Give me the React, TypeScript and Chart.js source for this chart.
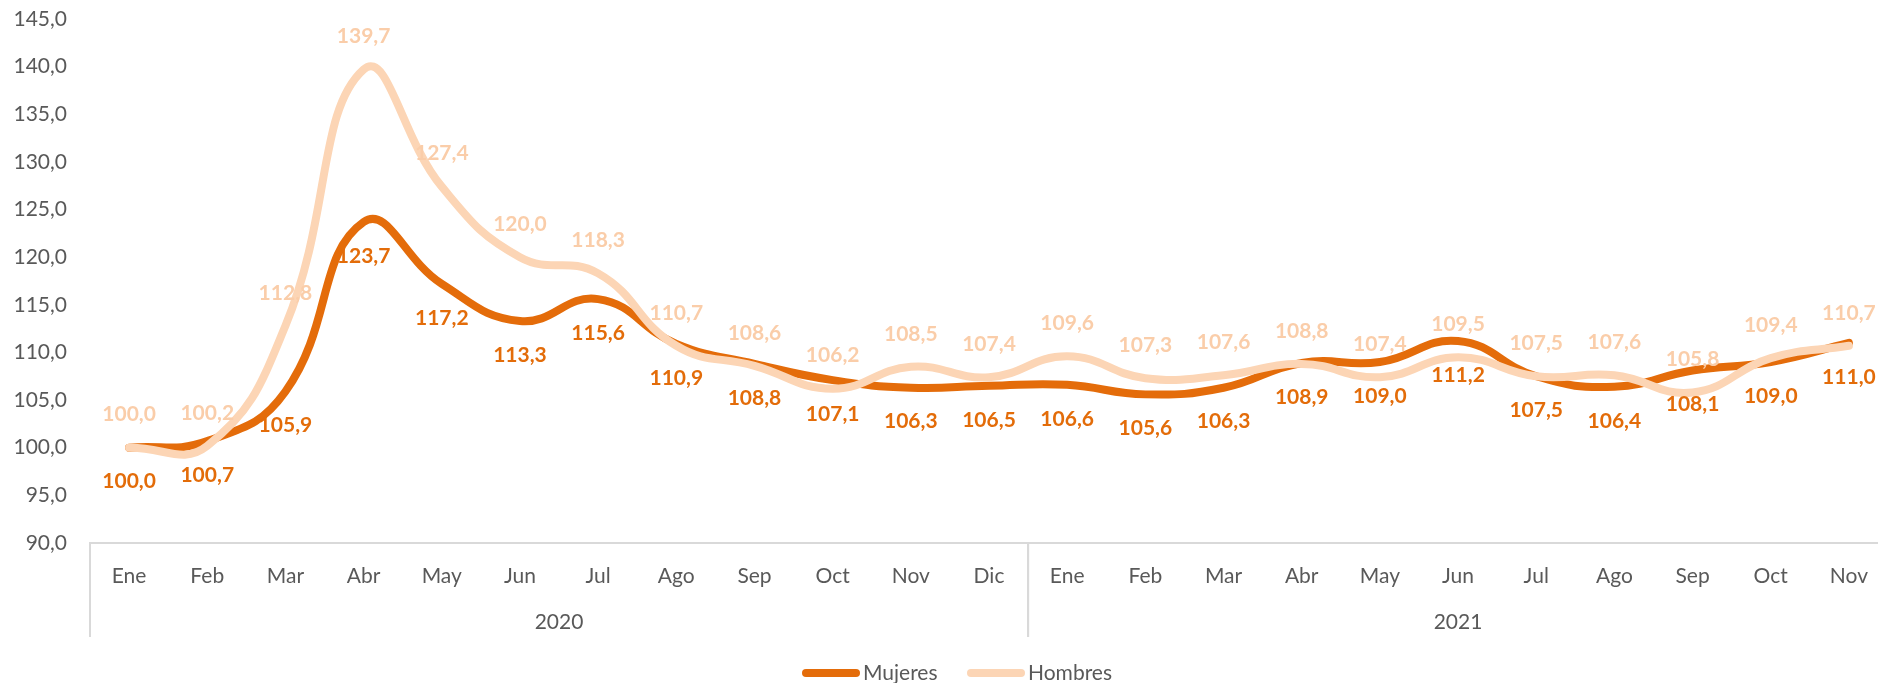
import React, { useEffect, useRef } from "react";
import { Chart, registerables } from "chart.js";

Chart.register(...registerables);

const months = ["Ene", "Feb", "Mar", "Abr", "May", "Jun", "Jul", "Ago", "Sep", "Oct", "Nov", "Dic",
  "Ene", "Feb", "Mar", "Abr", "May", "Jun", "Jul", "Ago", "Sep", "Oct", "Nov"];
const years = ["2020", "2020", "2020", "2020", "2020", "2020", "2020", "2020", "2020", "2020", "2020", "2020",
  "2021", "2021", "2021", "2021", "2021", "2021", "2021", "2021", "2021", "2021", "2021"];
const mujeres = [100.0, 100.7, 105.9, 123.7, 117.2, 113.3, 115.6, 110.9, 108.8, 107.1, 106.3, 106.5,
  106.6, 105.6, 106.3, 108.9, 109.0, 111.2, 107.5, 106.4, 108.1, 109.0, 111.0];
const hombres = [100.0, 100.2, 112.8, 139.7, 127.4, 120.0, 118.3, 110.7, 108.6, 106.2, 108.5, 107.4,
  109.6, 107.3, 107.6, 108.8, 107.4, 109.5, 107.5, 107.6, 105.8, 109.4, 110.7];
const seriesNames = ["Mujeres", "Hombres"];
const yMin = 90;
const yMax = 145;
const yStep = 5;

const FONT = "Lato, 'Open Sans', sans-serif";
const C_MUJ = "#E46C0A";
const C_HOM = "#FCD5B5";
const C_MUJ_LBL = "#E36C09";
const C_HOM_LBL = "#FACDA9";
const C_TEXT = "#595959";
const C_AXIS = "#D9D9D9";

const fmt = (v: number) => v.toFixed(1).replace(".", ",");

const labelPlugin = {
  id: "valueLabels",
  afterDatasetsDraw(chart: any) {
    const ctx = chart.ctx;
    ctx.save();
    ctx.font = `bold 21px ${FONT}`;
    ctx.textAlign = "center";
    ctx.textBaseline = "middle";
    chart.data.datasets.forEach((ds: any, i: number) => {
      const meta = chart.getDatasetMeta(i);
      const below = i === 0;
      ctx.fillStyle = below ? C_MUJ_LBL : C_HOM_LBL;
      meta.data.forEach((pt: any, j: number) => {
        const y = below ? pt.y + 34 : pt.y - 33;
        ctx.fillText(fmt(ds.data[j]), pt.x, y);
      });
    });
    ctx.restore();
  },
};

const axisPlugin = {
  id: "groupAxis",
  afterDraw(chart: any) {
    const ctx = chart.ctx;
    const xs = chart.scales.x;
    const area = chart.chartArea;
    ctx.save();
    const groups: { name: string; start: number; end: number }[] = [];
    let start = 0;
    for (let i = 1; i <= years.length; i++) {
      if (i === years.length || years[i] !== years[i - 1]) {
        groups.push({ name: years[start], start, end: i - 1 });
        start = i;
      }
    }
    const half = (xs.getPixelForValue(1) - xs.getPixelForValue(0)) / 2;
    ctx.strokeStyle = C_AXIS;
    ctx.lineWidth = 2;
    groups.forEach((g) => {
      const l = xs.getPixelForValue(g.start) - half;
      const r = xs.getPixelForValue(g.end) + half;
      [l, r].forEach((x) => {
        ctx.beginPath();
        ctx.moveTo(x, area.bottom);
        ctx.lineTo(x, 637);
        ctx.stroke();
      });
      ctx.fillStyle = C_TEXT;
      ctx.font = `21px ${FONT}`;
      ctx.textAlign = "center";
      ctx.textBaseline = "middle";
      ctx.fillText(g.name, (l + r) / 2, 622);
    });
    const items = [
      { name: seriesNames[0], color: C_MUJ, x: 802 },
      { name: seriesNames[1], color: C_HOM, x: 967 },
    ];
    const ly = 673;
    items.forEach((it) => {
      ctx.strokeStyle = it.color;
      ctx.lineWidth = 8;
      ctx.lineCap = "round";
      ctx.beginPath();
      ctx.moveTo(it.x + 4, ly);
      ctx.lineTo(it.x + 54, ly);
      ctx.stroke();
      ctx.fillStyle = C_TEXT;
      ctx.font = `21px ${FONT}`;
      ctx.textAlign = "left";
      ctx.textBaseline = "middle";
      ctx.fillText(it.name, it.x + 61, ly);
    });
    ctx.restore();
  },
};

export default function App() {
  const ref = useRef<HTMLCanvasElement | null>(null);
  useEffect(() => {
    if (!ref.current) return;
    const chart = new Chart(ref.current, {
      type: "line",
      data: {
        labels: months,
        datasets: [
          {
            label: seriesNames[0],
            data: mujeres,
            borderColor: C_MUJ,
            backgroundColor: C_MUJ,
            borderWidth: 8,
            pointRadius: 0,
            tension: 0.45,
            borderCapStyle: "round",
            borderJoinStyle: "round",
            order: 1,
          },
          {
            label: seriesNames[1],
            data: hombres,
            borderColor: C_HOM,
            backgroundColor: C_HOM,
            borderWidth: 8,
            pointRadius: 0,
            tension: 0.45,
            borderCapStyle: "round",
            borderJoinStyle: "round",
            order: 0,
          },
        ],
      },
      options: {
        animation: false,
        responsive: false,
        maintainAspectRatio: false,
        layout: { padding: { top: 19, right: 12, left: 0, bottom: 0 } },
        plugins: {
          legend: { display: false },
          tooltip: { enabled: false },
        },
        scales: {
          x: {
            type: "category",
            offset: true,
            grid: { display: false, drawTicks: false },
            border: { display: true, color: C_AXIS, width: 2 },
            ticks: {
              color: C_TEXT,
              font: { family: FONT, size: 21 },
              padding: 21,
              maxRotation: 0,
              autoSkip: false,
            },
            afterFit: (s: any) => {
              s.height = 140;
              s.paddingLeft = 0;
              s.paddingRight = 0;
            },
          },
          y: {
            min: yMin,
            max: yMax,
            grid: { display: false, drawTicks: false },
            border: { display: false },
            ticks: {
              stepSize: yStep,
              color: C_TEXT,
              font: { family: FONT, size: 21 },
              padding: 23,
              callback: (v: any) => fmt(Number(v)),
            },
            afterFit: (s: any) => {
              s.width = 90;
              s.paddingTop = 0;
              s.paddingBottom = 0;
            },
          },
        },
      },
      plugins: [labelPlugin, axisPlugin],
    });
    return () => chart.destroy();
  }, []);
  return (
    <div style={{ position: "fixed", left: 0, top: 0, width: 1878, height: 683, overflow: "hidden", background: "#fff" }}>
      <canvas ref={ref} width={1900} height={683} style={{ width: 1900, height: 683, display: "block" }} />
    </div>
  );
}
